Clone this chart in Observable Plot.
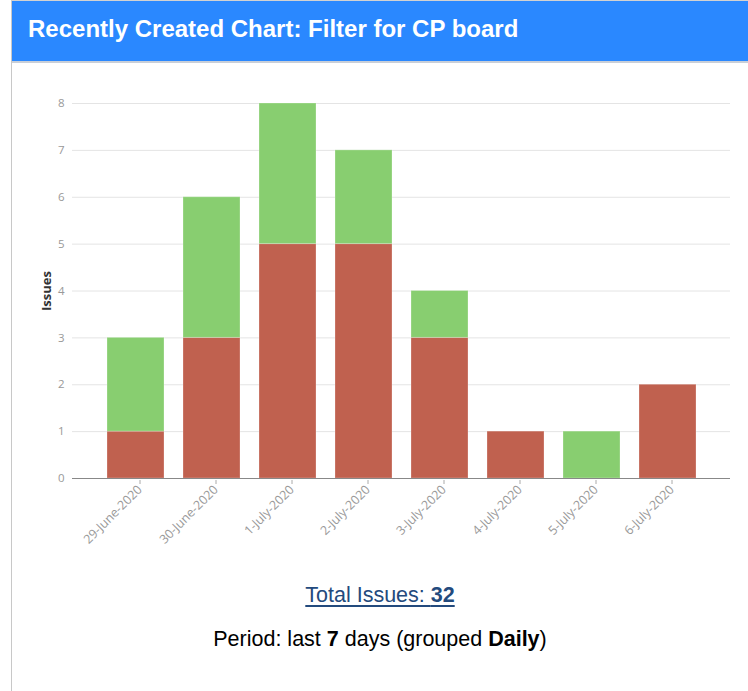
<!DOCTYPE html>
<html>
<head>
<meta charset="utf-8">
<script src="https://cdn.jsdelivr.net/npm/d3@7"></script>
<script src="https://cdn.jsdelivr.net/npm/@observablehq/plot@0.6"></script>
<style>
  body { margin: 0; background: #fff; font-family: "Liberation Sans", Arial, sans-serif; }
  #wrap { position: absolute; left: 11px; top: 0; width: 737px; height: 691px; border-left: 1px solid #c8c8c8; border-top: 1px solid #d2d2d2; box-sizing: border-box; }
  #hdr { position: absolute; left: 0; top: 0; width: 100%; height: 60px; background: #2a88ff; border-bottom: 2px solid #c9cfd8; }
  #title { position: absolute; left: 16px; top: 16px; font-size: 24px; line-height: 24px; font-weight: bold; color: #fff; white-space: nowrap; }
  #chart { position: absolute; left: 0; top: 62px; }
  #chart svg { overflow: visible; }
  #total { position: absolute; left: 0; width: 736px; top: 584px; text-align: center; font-size: 21.5px; line-height: 21.5px; }
  #total a { color: #234a7d; text-decoration: underline; text-underline-offset: 3px; }
  #period { position: absolute; left: 0; width: 736px; top: 628px; text-align: center; font-size: 21.5px; line-height: 21.5px; color: #000; }
</style>
</head>
<body>
<div id="wrap">
  <div id="hdr"><div id="title">Recently Created Chart: Filter for CP board</div></div>
  <div id="chart"></div>
  <div id="total"><a>Total Issues: <b>32</b></a></div>
  <div id="period">Period: last <b>7</b> days (grouped <b>Daily</b>)</div>
</div>
<script>
const dates = ["29-June-2020", "30-June-2020", "1-July-2020", "2-July-2020", "3-July-2020", "4-July-2020", "5-July-2020", "6-July-2020"];
const seriesNames = ["Series 1", "Series 2"];
const series1Values = [1, 3, 5, 5, 3, 1, 0, 2];
const series2Values = [2, 3, 3, 2, 1, 0, 1, 0];
const yTicks = [0, 1, 2, 3, 4, 5, 6, 7, 8];
const seriesColors = ["#c0614f", "#88ce70"];

const rows = [];
dates.forEach((d, i) => {
  rows.push({date: d, series: seriesNames[0], value: series1Values[i]});
  rows.push({date: d, series: seriesNames[1], value: series2Values[i]});
});

const chart = Plot.plot({
  width: 736,
  height: 500,
  marginTop: 40,
  marginBottom: 85,
  marginLeft: 60,
  marginRight: 18,
  style: { fontFamily: "'Open Sans', sans-serif", fontSize: "11px", background: "transparent" },
  x: { domain: dates, paddingInner: 0.25, paddingOuter: 0.43, label: null },
  y: { domain: [0, 8], label: null },
  color: { type: "ordinal", domain: seriesNames, range: seriesColors },
  marks: [
    Plot.gridY(yTicks, { stroke: "#e4e4e4", strokeOpacity: 1 }),
    Plot.barY(rows, { x: "date", y: "value", fill: "series", stroke: "#ffffff", strokeOpacity: 0.25, strokeWidth: 1, order: seriesNames }),
    Plot.ruleY([0], { stroke: "#888" }),
    Plot.axisY({ ticks: yTicks, tickSize: 0, tickPadding: 8, fill: "#999", fontSize: 11.5, label: null }),
    Plot.axisY({ ticks: [], label: "Issues", labelAnchor: "center", labelArrow: "none", labelOffset: 31, fill: "#333", fontWeight: "bold", fontSize: 13 }),
    Plot.axisX({ tickRotate: -45, tickSize: 4, tickPadding: 3, dx: 4, dy: 2, stroke: "#aaa", fill: "#999", fontSize: 12.5, label: null })
  ]
});
document.getElementById("chart").appendChild(chart);
</script>
</body>
</html>
